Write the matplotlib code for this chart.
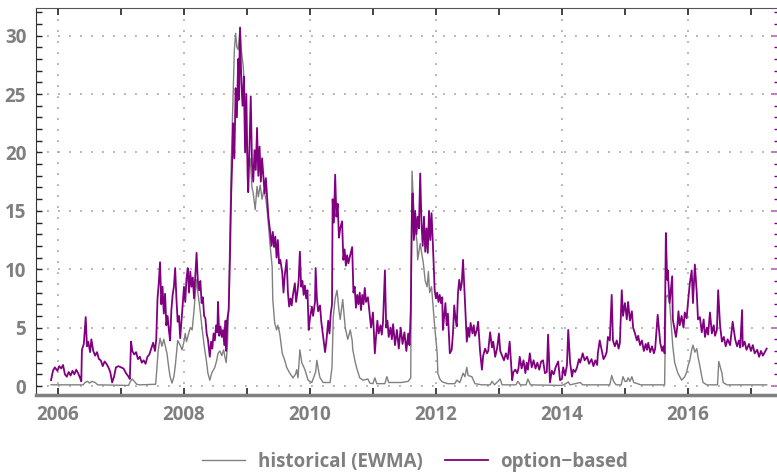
import matplotlib
matplotlib.use("Agg")
import matplotlib.pyplot as plt
from matplotlib.ticker import MultipleLocator, FixedLocator

# ---- data: option-based (purple) ----
opt_t = [2005.89, 2005.92, 2005.95, 2005.99, 2006.02, 2006.05, 2006.08, 2006.11, 2006.14, 2006.17,
         2006.20, 2006.23, 2006.26, 2006.29, 2006.32, 2006.35, 2006.37, 2006.38, 2006.41, 2006.44,
         2006.46, 2006.48, 2006.51, 2006.53, 2006.56, 2006.59, 2006.62, 2006.65, 2006.68, 2006.71,
         2006.74, 2006.77, 2006.80, 2006.83, 2006.86, 2006.89, 2006.92, 2006.96, 2007.00, 2007.04,
         2007.08, 2007.12, 2007.14, 2007.16, 2007.18, 2007.21, 2007.24, 2007.27, 2007.30, 2007.33,
         2007.36, 2007.39, 2007.42, 2007.45, 2007.48, 2007.51, 2007.54, 2007.56, 2007.58, 2007.60,
         2007.62, 2007.64, 2007.66, 2007.68, 2007.70, 2007.72, 2007.74, 2007.76, 2007.78, 2007.80,
         2007.82, 2007.84, 2007.86, 2007.88, 2007.90, 2007.92, 2007.94, 2007.96, 2007.98, 2008.00,
         2008.02, 2008.04, 2008.06, 2008.08, 2008.10, 2008.12, 2008.14, 2008.16, 2008.18, 2008.20,
         2008.22, 2008.24, 2008.26, 2008.28, 2008.30, 2008.32, 2008.34, 2008.36, 2008.38, 2008.40,
         2008.41, 2008.43, 2008.45, 2008.47, 2008.49, 2008.51, 2008.53, 2008.54, 2008.56, 2008.58,
         2008.60, 2008.62, 2008.64, 2008.66, 2008.67, 2008.69, 2008.71, 2008.73, 2008.75, 2008.77,
         2008.78, 2008.80, 2008.82, 2008.84, 2008.86, 2008.87, 2008.89, 2008.91, 2008.93, 2008.95,
         2008.97, 2008.99, 2009.01, 2009.02, 2009.04, 2009.06, 2009.08, 2009.10, 2009.12, 2009.14,
         2009.16, 2009.18, 2009.20, 2009.22, 2009.24, 2009.26, 2009.28, 2009.30, 2009.32, 2009.34,
         2009.37, 2009.39, 2009.41, 2009.43, 2009.45, 2009.47, 2009.49, 2009.51, 2009.53, 2009.56,
         2009.58, 2009.60, 2009.63, 2009.65, 2009.67, 2009.69, 2009.71, 2009.73, 2009.76, 2009.78,
         2009.80, 2009.82, 2009.84, 2009.86, 2009.88, 2009.90, 2009.92, 2009.94, 2009.96, 2009.98,
         2010.00, 2010.03, 2010.05, 2010.08, 2010.09, 2010.11, 2010.13, 2010.16, 2010.18, 2010.21,
         2010.24, 2010.26, 2010.29, 2010.31, 2010.33, 2010.35, 2010.36, 2010.38, 2010.40, 2010.42,
         2010.44, 2010.46, 2010.48, 2010.51, 2010.53, 2010.55, 2010.57, 2010.59, 2010.61, 2010.63,
         2010.67, 2010.69, 2010.71, 2010.73, 2010.75, 2010.77, 2010.79, 2010.81, 2010.83, 2010.85,
         2010.87, 2010.89, 2010.92, 2010.95, 2010.97, 2011.00, 2011.03, 2011.05, 2011.07, 2011.09,
         2011.12, 2011.14, 2011.16, 2011.19, 2011.21, 2011.23, 2011.25, 2011.28, 2011.30, 2011.32,
         2011.35, 2011.38, 2011.41, 2011.44, 2011.47, 2011.50, 2011.53, 2011.56, 2011.58, 2011.60,
         2011.62, 2011.63, 2011.65, 2011.67, 2011.69, 2011.71, 2011.73, 2011.75, 2011.77, 2011.79,
         2011.81, 2011.83, 2011.85, 2011.87, 2011.89, 2011.91, 2011.93, 2011.95, 2011.98, 2012.00,
         2012.02, 2012.04, 2012.06, 2012.08, 2012.10, 2012.11, 2012.13, 2012.15, 2012.17, 2012.19,
         2012.21, 2012.22, 2012.25, 2012.27, 2012.29, 2012.31, 2012.33, 2012.35, 2012.37, 2012.39,
         2012.41, 2012.43, 2012.46, 2012.49, 2012.51, 2012.53, 2012.55, 2012.58, 2012.60, 2012.62,
         2012.65, 2012.67, 2012.70, 2012.73, 2012.75, 2012.78, 2012.81, 2012.83, 2012.86, 2012.89,
         2012.91, 2012.94, 2012.97, 2013.00, 2013.02, 2013.05, 2013.08, 2013.11, 2013.14, 2013.17,
         2013.21, 2013.23, 2013.26, 2013.29, 2013.31, 2013.33, 2013.36, 2013.39, 2013.42, 2013.44,
         2013.46, 2013.49, 2013.52, 2013.55, 2013.58, 2013.61, 2013.64, 2013.67, 2013.70, 2013.73,
         2013.76, 2013.78, 2013.81, 2013.84, 2013.87, 2013.90, 2013.94, 2013.97, 2014.00, 2014.02,
         2014.05, 2014.08, 2014.10, 2014.13, 2014.16, 2014.18, 2014.21, 2014.24, 2014.27, 2014.29,
         2014.33, 2014.36, 2014.40, 2014.43, 2014.47, 2014.50, 2014.53, 2014.56, 2014.57, 2014.60,
         2014.63, 2014.66, 2014.69, 2014.71, 2014.73, 2014.76, 2014.79, 2014.81, 2014.84, 2014.87,
         2014.90, 2014.92, 2014.95, 2014.97, 2015.00, 2015.03, 2015.05, 2015.08, 2015.11, 2015.13,
         2015.16, 2015.19, 2015.21, 2015.24, 2015.27, 2015.30, 2015.33, 2015.35, 2015.37, 2015.40,
         2015.43, 2015.46, 2015.48, 2015.52, 2015.56, 2015.59, 2015.61, 2015.63, 2015.65, 2015.67,
         2015.68, 2015.71, 2015.75, 2015.76, 2015.79, 2015.81, 2015.83, 2015.85, 2015.87, 2015.90,
         2015.93, 2015.95, 2015.98, 2016.00, 2016.03, 2016.06, 2016.08, 2016.11, 2016.14, 2016.16,
         2016.19, 2016.22, 2016.25, 2016.27, 2016.30, 2016.32, 2016.35, 2016.38, 2016.41, 2016.43,
         2016.46, 2016.48, 2016.51, 2016.54, 2016.57, 2016.60, 2016.63, 2016.67, 2016.71, 2016.75,
         2016.78, 2016.81, 2016.83, 2016.86, 2016.87, 2016.90, 2016.93, 2016.97, 2017.00, 2017.03,
         2017.06, 2017.10, 2017.13, 2017.16, 2017.19, 2017.22, 2017.25]
opt_v = [0.5, 1.3, 1.6, 1.3, 1.7, 1.5, 1.8, 1.0, 0.8, 1.2,
         0.9, 1.3, 1.0, 1.4, 1.1, 0.7, 0.4, 3.1, 3.6, 5.9,
         3.4, 3.8, 2.9, 4.0, 3.0, 2.6, 2.9, 2.3, 2.2, 1.7,
         2.1, 1.9, 1.6, 1.2, 0.3, 0.8, 1.6, 1.7, 1.6, 1.5,
         1.1, 0.8, 0.6, 3.8, 3.0, 2.7, 2.9, 2.3, 2.5, 2.0,
         2.2, 1.9, 2.5, 2.7, 3.2, 3.7, 3.0, 4.0, 7.5, 8.8,
         10.6, 7.0, 8.5, 6.2, 7.9, 5.2, 6.0, 4.8, 3.9, 6.5,
         7.8, 8.5, 10.1, 7.5, 5.5, 6.0, 4.1, 5.5, 7.0, 8.5,
         7.2, 9.2, 10.1, 8.0, 9.8, 8.5, 9.3, 7.5, 9.5, 11.4,
         9.0, 8.2, 9.0, 7.1, 7.6, 6.0, 5.8, 4.5, 4.0, 3.0,
         2.5, 3.8, 3.2, 4.5, 3.9, 5.2, 4.6, 7.2, 4.3, 5.1,
         4.2, 4.8, 3.5, 5.6, 3.0, 5.8, 6.5, 11.0, 16.5, 20.0,
         22.5, 19.5, 25.5, 23.0, 28.0, 24.5, 30.7, 26.0, 24.0, 26.5,
         20.0, 25.0, 18.0, 16.6, 20.5, 24.8, 19.0, 17.5, 20.2, 18.5,
         22.1, 18.0, 20.5, 17.5, 19.5, 18.0, 16.5, 17.8, 16.2, 14.5,
         13.1, 12.0, 13.2, 11.9, 12.8, 11.0, 12.5, 10.5, 10.8, 9.7,
         8.0, 9.5, 10.8, 8.0, 6.8, 7.5, 6.9, 7.8, 8.8, 7.2,
         8.0, 9.0, 11.5, 8.5, 9.0, 7.8, 8.6, 7.5, 8.2, 4.8,
         5.8, 6.8, 6.0, 7.2, 10.1, 7.5, 6.4, 6.9, 5.5, 4.2,
         2.9, 3.8, 5.6, 4.5, 6.2, 7.0, 16.0, 14.0, 18.1, 14.5,
         15.6, 12.7, 13.5, 14.1, 10.8, 11.7, 10.3, 11.2, 10.5, 11.0,
         11.9, 8.0, 8.5, 6.7, 7.8, 7.0, 8.0, 6.5, 7.8, 7.0,
         8.4, 7.2, 7.6, 6.0, 5.0, 6.3, 2.8, 4.3, 5.6, 4.5,
         5.2, 4.4, 5.5, 9.9, 5.0, 5.6, 4.2, 5.0, 4.0, 5.3,
         3.5, 4.8, 3.2, 5.0, 3.6, 4.6, 3.0, 4.5, 3.5, 6.4,
         15.5, 16.5, 12.5, 15.0, 13.0, 14.5, 13.5, 18.2, 14.0, 12.0,
         14.5, 11.5, 13.5, 11.4, 15.0, 12.5, 14.8, 12.3, 8.2, 7.5,
         8.0, 7.2, 7.8, 7.1, 7.6, 4.8, 6.0, 7.1, 5.2, 6.2,
         4.0, 2.8, 3.1, 4.5, 6.9, 5.8, 5.1, 8.0, 9.1, 8.2,
         8.8, 10.8, 7.4, 3.8, 5.0, 4.2, 5.4, 4.5, 5.2, 4.3,
         4.8, 5.5, 3.0, 1.4, 2.6, 3.2, 2.8, 3.0, 4.6, 3.3,
         3.8, 2.5, 3.2, 4.5, 3.0, 2.6, 2.2, 2.8, 2.3, 3.8,
         0.5, 1.2, 1.4, 1.1, 1.5, 2.5, 1.5, 2.2, 1.1, 2.0,
         1.4, 2.8, 1.6, 2.2, 1.5, 2.0, 1.4, 2.1, 2.2, 1.1,
         1.2, 4.4, 0.3, 1.3, 1.0, 1.6, 2.1, 0.5, 0.6, 1.6,
         0.9, 1.8, 4.8, 2.0, 0.8, 1.4, 1.2, 1.6, 2.3, 2.0,
         2.8, 2.2, 2.5, 1.9, 2.3, 1.7, 2.2, 1.8, 2.8, 3.9,
         3.1, 2.3, 2.6, 2.9, 4.2, 3.9, 7.8, 3.9, 3.4, 3.9,
         3.2, 3.7, 8.2, 6.0, 7.1, 5.7, 7.2, 5.6, 6.4, 5.0,
         4.5, 3.9, 4.3, 3.5, 3.9, 3.0, 3.6, 3.1, 3.7, 2.9,
         3.4, 2.8, 3.2, 6.1, 3.7, 3.0, 3.4, 2.8, 13.1, 9.1,
         9.9, 7.1, 9.4, 5.7, 4.8, 4.2, 5.0, 6.4, 5.2, 6.0,
         5.0, 6.3, 5.8, 7.1, 8.8, 9.9, 7.1, 10.4, 8.0, 5.7,
         5.9, 4.6, 5.7, 4.2, 5.0, 4.4, 6.3, 4.5, 5.2, 4.3,
         4.8, 8.2, 5.2, 3.8, 4.2, 3.4, 4.0, 3.5, 5.5, 4.0,
         3.4, 3.9, 3.3, 6.5, 3.4, 3.8, 3.1, 3.6, 3.0, 3.5,
         2.8, 3.1, 2.5, 3.0, 2.6, 2.9, 3.2]

# ---- data: historical EWMA (grey) ----
hist_t = [2005.89, 2006.40, 2006.43, 2006.47, 2006.50, 2006.54, 2006.59, 2006.63, 2007.12, 2007.15,
          2007.18, 2007.21, 2007.25, 2007.30, 2007.55, 2007.57, 2007.59, 2007.62, 2007.65, 2007.68,
          2007.70, 2007.73, 2007.76, 2007.78, 2007.81, 2007.84, 2007.86, 2007.88, 2007.90, 2007.94,
          2007.97, 2008.00, 2008.02, 2008.04, 2008.06, 2008.10, 2008.13, 2008.16, 2008.18, 2008.20,
          2008.22, 2008.25, 2008.29, 2008.33, 2008.36, 2008.38, 2008.41, 2008.44, 2008.49, 2008.52,
          2008.54, 2008.57, 2008.60, 2008.63, 2008.65, 2008.67, 2008.69, 2008.71, 2008.73, 2008.75,
          2008.78, 2008.80, 2008.82, 2008.84, 2008.86, 2008.89, 2008.91, 2008.94, 2008.97, 2009.00,
          2009.03, 2009.05, 2009.08, 2009.10, 2009.13, 2009.16, 2009.18, 2009.21, 2009.24, 2009.27,
          2009.30, 2009.33, 2009.37, 2009.40, 2009.41, 2009.44, 2009.47, 2009.49, 2009.52, 2009.56,
          2009.60, 2009.63, 2009.68, 2009.73, 2009.77, 2009.79, 2009.81, 2009.84, 2009.87, 2009.92,
          2009.97, 2010.03, 2010.09, 2010.11, 2010.14, 2010.16, 2010.21, 2010.32, 2010.35, 2010.37,
          2010.40, 2010.43, 2010.46, 2010.48, 2010.52, 2010.56, 2010.60, 2010.64, 2010.67, 2010.68,
          2010.72, 2010.75, 2010.79, 2010.84, 2010.92, 2010.95, 2011.00, 2011.03, 2011.06, 2011.19,
          2011.22, 2011.25, 2011.45, 2011.56, 2011.60, 2011.61, 2011.62, 2011.64, 2011.67, 2011.70,
          2011.71, 2011.75, 2011.78, 2011.80, 2011.83, 2011.86, 2011.88, 2011.90, 2011.93, 2011.95,
          2011.98, 2012.02, 2012.03, 2012.06, 2012.10, 2012.19, 2012.30, 2012.33, 2012.38, 2012.43,
          2012.46, 2012.49, 2012.51, 2012.57, 2012.62, 2012.73, 2012.86, 2012.89, 2012.93, 2013.02,
          2013.05, 2013.27, 2013.30, 2013.34, 2013.43, 2013.46, 2013.50, 2014.00, 2014.06, 2014.10,
          2014.13, 2014.29, 2014.33, 2014.76, 2014.79, 2014.82, 2014.86, 2014.94, 2014.97, 2015.00,
          2015.03, 2015.05, 2015.08, 2015.11, 2015.14, 2015.20, 2015.25, 2015.63, 2015.65, 2015.68,
          2015.71, 2015.75, 2015.76, 2015.79, 2015.84, 2015.90, 2015.95, 2015.98, 2016.00, 2016.03,
          2016.06, 2016.08, 2016.11, 2016.14, 2016.16, 2016.19, 2016.22, 2016.24, 2016.30, 2016.47,
          2016.49, 2016.54, 2016.56, 2016.62, 2017.25]
hist_v = [0.1, 0.1, 0.3, 0.4, 0.25, 0.4, 0.3, 0.1, 0.05, 0.4,
          0.6, 0.4, 0.15, 0.1, 0.15, 1.5, 3.0, 4.1, 3.4, 4.0,
          3.5, 2.8, 1.5, 0.8, 0.25, 0.8, 1.6, 2.8, 3.9, 3.5,
          3.1, 3.8, 4.5, 3.8, 4.2, 5.0, 4.8, 6.5, 8.0, 9.1,
          8.0, 6.8, 4.8, 3.1, 2.0, 1.1, 0.5, 1.1, 1.6, 2.2,
          2.8, 3.0, 2.6, 3.1, 2.5, 2.0, 3.5, 7.0, 13.0, 19.0,
          25.0, 28.8, 30.2, 29.0, 28.8, 30.6, 28.8, 27.4, 24.5, 20.2,
          18.8, 19.5, 17.0, 16.5, 15.1, 17.1, 16.2, 17.2, 16.0, 16.8,
          16.0, 14.5, 11.9, 10.2, 7.4, 5.4, 4.8, 5.2, 4.5, 2.8,
          2.2, 1.6, 1.1, 0.7, 1.0, 1.4, 0.7, 3.1, 2.0, 1.4,
          0.5, 0.3, 1.2, 2.2, 1.2, 0.7, 0.3, 0.3, 1.6, 5.9,
          7.5, 8.2, 6.5, 5.7, 7.4, 5.0, 4.0, 4.8, 3.9, 3.1,
          2.0, 1.4, 0.7, 0.5, 0.6, 0.25, 0.2, 0.7, 0.2, 0.2,
          0.8, 0.3, 0.3, 0.4, 0.7, 12.0, 18.4, 16.0, 13.5, 12.3,
          10.8, 12.2, 11.2, 10.5, 9.0, 8.5, 9.8, 8.0, 8.5, 7.1,
          5.1, 2.8, 1.1, 0.6, 0.35, 0.2, 0.2, 0.5, 0.3, 1.1,
          0.8, 1.6, 0.9, 0.8, 0.2, 0.1, 0.1, 0.4, 0.1, 0.6,
          0.1, 0.1, 0.4, 0.1, 0.1, 0.6, 0.1, 0.05, 0.2, 0.35,
          0.1, 0.3, 0.1, 0.1, 0.9, 0.4, 0.1, 0.1, 0.8, 0.4,
          0.4, 0.7, 0.4, 0.8, 0.3, 0.2, 0.1, 0.1, 7.6, 7.8,
          7.1, 4.2, 3.4, 2.0, 1.1, 0.5, 0.8, 1.2, 1.7, 2.2,
          3.1, 3.5, 2.9, 3.2, 2.5, 1.7, 0.8, 0.3, 0.1, 0.1,
          2.1, 1.1, 0.3, 0.1, 0.1]

x_major = [2006, 2008, 2010, 2012, 2014, 2016]
x_minor = [2007, 2009, 2011, 2013, 2015, 2017]
y_major = [0, 5, 10, 15, 20, 25, 30]
series_labels = ["historical (EWMA)", "option\u2212based"]

GREY = "#808080"
PURPLE = "#800080"
TXT = "#7f7f7f"
FS = 13.5

plt.rcParams['font.family'] = ['Open Sans', 'DejaVu Sans']

fig = plt.figure(figsize=(7.77, 4.74), dpi=100)
ax = fig.add_axes([36/777, 1 - 395/474, (778 - 36)/777, (395 - 8)/474])

l1, = ax.plot(hist_t, hist_v, color=GREY, lw=1.0, zorder=3)
l2, = ax.plot(opt_t, opt_v, color=PURPLE, lw=1.3, zorder=4)

ax.set_xlim(2005.651, 2017.43)
ax.set_ylim(-0.77, 32.37)

ax.xaxis.set_major_locator(FixedLocator(x_major))
ax.xaxis.set_minor_locator(FixedLocator(x_minor))
ax.set_xticklabels([str(v) for v in x_major])
ax.yaxis.set_major_locator(FixedLocator(y_major))
ax.yaxis.set_minor_locator(MultipleLocator(1))

ax.tick_params(axis='x', which='both', direction='in', length=5, width=1.2,
               top=True, bottom=True, color='#222222', pad=7)
ax.tick_params(axis='y', which='both', direction='in', length=4, width=1.0,
               left=True, right=False, color='#222222', pad=7)
for lab in ax.get_xticklabels() + ax.get_yticklabels():
    lab.set_fontsize(FS)
    lab.set_fontweight('bold')
    lab.set_color(TXT)

ax.grid(True, which='major', color='#a0a0a0', linestyle=(0, (1.2, 6)), linewidth=1.1)

ax.spines['left'].set_color('#333333')
ax.spines['top'].set_color('#555555')
ax.spines['bottom'].set_color('#808080')
ax.spines['bottom'].set_linewidth(2.5)
ax.spines['right'].set_visible(False)

# right-hand purple ticks (secondary axis edge)
ax2 = ax.twinx()
ax2.set_ylim(ax.get_ylim())
ax2.yaxis.set_major_locator(FixedLocator(y_major))
ax2.yaxis.set_minor_locator(MultipleLocator(1))
ax2.tick_params(axis='y', which='minor', direction='in', length=3, width=1.0, color=PURPLE)
ax2.tick_params(axis='y', which='major', direction='in', length=5, width=1.5, color='#c080c0',
                labelright=False)
for s in ax2.spines.values():
    s.set_visible(False)

leg = fig.legend([l1, l2], series_labels, loc='center', ncol=2,
                 bbox_to_anchor=(415/777, 1 - 462/474), frameon=False,
                 handlelength=2.3, handletextpad=0.65, columnspacing=1.2,
                 prop={'size': FS, 'weight': 'bold'})
for t in leg.get_texts():
    t.set_color(TXT)

fig.savefig("out.png", dpi=100)
